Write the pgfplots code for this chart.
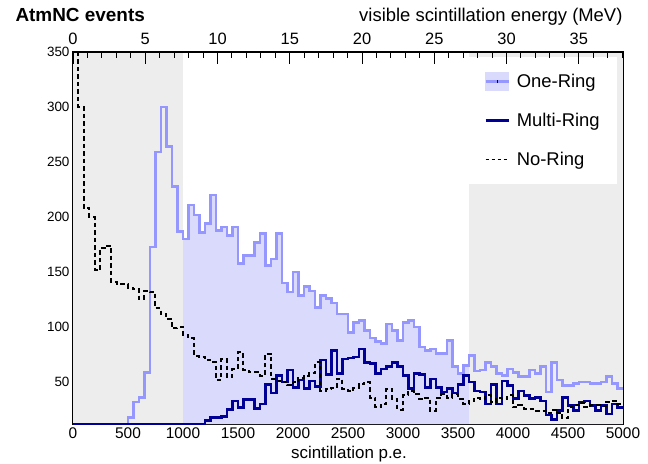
\documentclass[border=0pt]{standalone}
\usepackage{fontspec}
\setmainfont{Liberation Sans}
\usepackage{pgfplots}
\usepackage{pgfplotstable}
\pgfplotsset{compat=1.18}
\definecolor{orline}{RGB}{150,150,255}
\definecolor{orfill}{RGB}{218,218,252}
\definecolor{mrline}{RGB}{0,0,150}
\definecolor{shade}{RGB}{237,237,237}

\pgfplotstableread{
x or mr nr
0 0 0 420
50 0 0 300
100 0 0 208
150 0 0 200
200 0 0 152
250 0 0 172
300 0 0 174
350 0 0 141
400 0 0 139
450 0 0 139
500 18 0 136
550 32 0 135
600 36 0 126
650 59 0 133
700 173 0 132
750 259 0 117
800 300 0 112
850 264 0 107
900 228 0 99
950 187 0 100
1000 180 0 93
1050 211 0 90
1100 202 0 74
1150 186 11 73
1200 194 15 70
1250 220 18 68
1300 188 18 52
1350 191 19 71
1400 183 25 55
1450 191 33 62
1500 158 27 77
1550 165 34 61
1600 165 34 59
1650 177 26 59
1700 185 30 56
1750 156 48 76
1800 162 40 53
1850 185 56 51
1900 140 50 50
1950 132 61 47
2000 150 45 50
2050 129 52 54
2100 137 44 56
2150 133 51 58
2200 118 46 68
2250 129 70 42
2300 126 57 44
2350 122 79 45
2400 112 58 53
2450 112 71 44
2500 95 72 42
2550 104 73 45
2600 106 80 48
2650 97 68 50
2700 90 67 36
2750 87 58 27
2800 85 62 30
2850 103 64 44
2900 97 68 35
2950 88 64 25
3000 104 56 38
3050 106 44 42
3100 100 58 39
3150 82 57 35
3200 79 45 36
3250 80 53 24
3300 76 45 36
3350 76 41 39
3400 88 44 36
3450 64 40 39
3500 58 48 35
3550 65 56 30
3600 74 50 33
3650 60 42 36
3700 61 41 35
3750 68 30 38
3800 64 48 32
3850 58 30 36
3900 56 51 35
3950 62 47 38
4000 59 35 27
4050 55 42 29
4100 55 38 26
4150 61 35 26
4200 58 36 24
4250 64 33 24
4300 41 20 22
4350 68 16 25
4400 52 24 22
4450 47 36 17
4500 47 29 27
4550 49 24 29
4600 50 32 31
4650 50 33 27
4700 49 29 29
4750 49 24 29
4800 50 29 28
4850 55 21 32
4900 49 30 33
4950 44 27 30
5000 44 27 30
}\histdata

\begin{document}
\begin{tikzpicture}
\useasboundingbox (-73bp,-40bp) rectangle (575bp,424bp);
\begin{axis}[
  at={(0,0)}, anchor=south west,
  width=550bp, height=372bp, scale only axis,
  xmin=0, xmax=5000, ymin=12, ymax=350,
  xtick={0,500,...,5000}, minor xtick={100,200,...,4900},
  ytick={50,100,...,350}, minor ytick={20,30,...,340},
  xtick pos=bottom, ytick pos=both, yticklabel pos=left,
  tick align=inside,
  axis line style={line width=1.6bp, black},
  tick style={line width=1bp, black},
  x tick style={/pgfplots/major tick length=12bp, /pgfplots/minor tick length=6bp},
  y tick style={/pgfplots/major tick length=17bp, /pgfplots/minor tick length=8.5bp},
  /pgf/number format/assume math mode=true,
  /pgf/number format/1000 sep={},
  xticklabel style={font=\fontsize{15.5}{18}\selectfont},
  yticklabel style={font=\fontsize{13.5}{16}\selectfont},
  legend style={at={(0.989,0.9866)}, anchor=north east, fill=white, draw=none,
    font=\fontsize{18.5}{22}\selectfont, inner xsep=15bp, inner ysep=15bp,
    row sep=20bp, legend cell align=left,
    /tikz/every odd column/.append style={column sep=5bp}},
]
\addplot[const plot mark left, draw=none, fill=orfill, forget plot,
  y filter/.expression={max(y,12)}] table[x=x,y=or] {\histdata} \closedcycle;
\addplot[draw=none, fill=shade, forget plot] coordinates {(0,400) (1000,400)} \closedcycle;
\addplot[draw=none, fill=shade, forget plot] coordinates {(3600,400) (5000,400)} \closedcycle;
\addplot[const plot mark left, orline, line width=2.6bp, forget plot,
  y filter/.expression={max(y,12)}] table[x=x,y=or] {\histdata};
\addplot[const plot mark left, mrline, line width=2.6bp, forget plot,
  y filter/.expression={max(y,12)}] table[x=x,y=mr] {\histdata};
\addplot[const plot mark left, black, line width=2bp, dash pattern=on 4.5bp off 3bp, forget plot,
  y filter/.expression={max(y,12)}] table[x=x,y=nr] {\histdata};

\addlegendimage{legend image code/.code={
  \fill[orfill] (0bp,-9bp) rectangle (23bp,9bp);
  \draw[orline, line width=2.6bp] (0bp,0bp) -- (23bp,0bp);
  \draw[black, line width=0.6bp] (11.5bp,-1.5bp) -- (11.5bp,1.5bp);}}
\addlegendentry{One-Ring}
\addlegendimage{legend image code/.code={
  \draw[mrline, line width=2.6bp] (0bp,0bp) -- (23bp,0bp);}}
\addlegendentry{Multi-Ring}
\addlegendimage{legend image code/.code={
  \draw[black, line width=1.4bp, dash pattern=on 3.5bp off 2.5bp] (0bp,0bp) -- (23bp,0bp);}}
\addlegendentry{No-Ring}
\end{axis}
\begin{axis}[
  at={(0,0)}, anchor=south west,
  width=550bp, height=372bp, scale only axis,
  xmin=0, xmax=38.06, ymin=0, ymax=1,
  axis x line*=top, axis y line=none,
  xtick={0,5,...,35}, minor xtick={1,2,...,38},
  tick align=inside,
  axis line style={line width=1.6bp, black},
  tick style={line width=1bp, black},
  major tick length=12bp, minor tick length=6bp,
  /pgf/number format/assume math mode=true,
  xticklabel style={font=\fontsize{16.5}{19}\selectfont, yshift=4bp},
]
\end{axis}
\node[anchor=base west, font=\bfseries\fontsize{19}{22}\selectfont] at (-61bp,402bp) {AtmNC events};
\node[anchor=base east, font=\fontsize{18.5}{22}\selectfont] at (553bp,402bp) {visible scintillation energy (MeV)};
\node[anchor=base, font=\fontsize{17}{20}\selectfont] at (276bp,-34bp) {scintillation p.e.};
\end{tikzpicture}
\end{document}
